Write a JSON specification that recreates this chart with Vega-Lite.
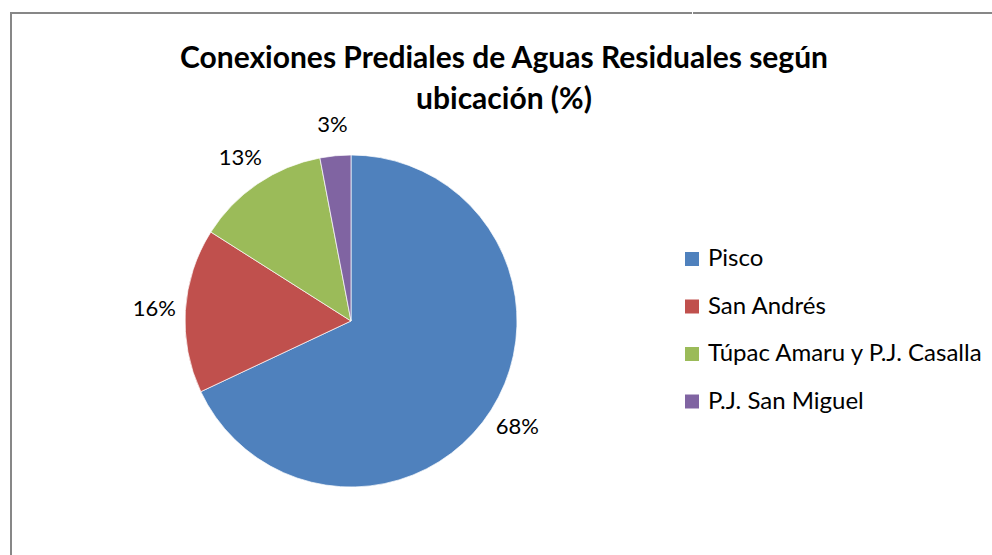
{
  "$schema": "https://vega.github.io/schema/vega-lite/v6.json",
  "background": "white",
  "padding": {"left": 10, "top": 12, "right": 0, "bottom": 0},
  "title": {
    "text": ["Conexiones Prediales de Aguas Residuales según", "ubicación (%)"],
    "anchor": "start",
    "align": "center",
    "frame": "group",
    "font": "Lato",
    "fontSize": 30,
    "fontWeight": "bold",
    "color": "black",
    "lineHeight": 41,
    "baseline": "alphabetic",
    "offset": 0,
    "dx": 493,
    "dy": 127
  },
  "datasets": {
    "pie": [
      {"zona": "Pisco", "pct": 0.68, "orden": 1},
      {"zona": "San Andrés", "pct": 0.16, "orden": 2},
      {"zona": "Túpac Amaru y P.J. Casalla", "pct": 0.13, "orden": 3},
      {"zona": "P.J. San Miguel", "pct": 0.03, "orden": 4}
    ]
  },
  "spacing": 0,
  "hconcat": [
    {
      "width": 680,
      "height": 616,
      "view": {"stroke": "#878787", "strokeWidth": 2, "strokeDash": [681, 1295, 616, 2000]},
      "data": {"name": "pie"},
      "encoding": {
        "theta": {"field": "pct", "type": "quantitative", "stack": true},
        "order": {"field": "orden", "type": "quantitative"}
      },
      "layer": [
        {
          "mark": {"type": "arc", "outerRadius": 166, "stroke": "white", "strokeWidth": 0.7},
          "encoding": {
            "color": {
              "field": "zona",
              "type": "nominal",
              "sort": ["Pisco", "San Andrés", "Túpac Amaru y P.J. Casalla", "P.J. San Miguel"],
              "scale": {
                "domain": ["Pisco", "San Andrés", "Túpac Amaru y P.J. Casalla", "P.J. San Miguel"],
                "range": ["#4F81BD", "#C0504D", "#9BBB59", "#8064A2"]
              },
              "legend": {
                "orient": "none",
                "legendX": 669,
                "legendY": 234,
                "title": null,
                "padding": 0,
                "symbolType": "square",
                "symbolSize": 196,
                "symbolStrokeWidth": 0,
                "labelFont": "Lato",
                "labelFontSize": 24,
                "labelColor": "black",
                "labelOffset": 4,
                "labelLimit": 500,
                "rowPadding": 23.5
              }
            }
          }
        },
        {
          "mark": {"type": "text", "radius": 197, "font": "Lato", "fontSize": 22, "align": "center", "baseline": "middle"},
          "encoding": {
            "text": {"field": "pct", "type": "quantitative", "format": ".0%"},
            "detail": {"field": "zona", "type": "nominal"},
            "color": {"value": "black"}
          }
        }
      ]
    },
    {
      "width": 306,
      "height": 616,
      "view": {"stroke": "#878787", "strokeWidth": 2, "strokeDash": [306, 3000]},
      "data": {"values": []},
      "mark": "point"
    }
  ]
}
